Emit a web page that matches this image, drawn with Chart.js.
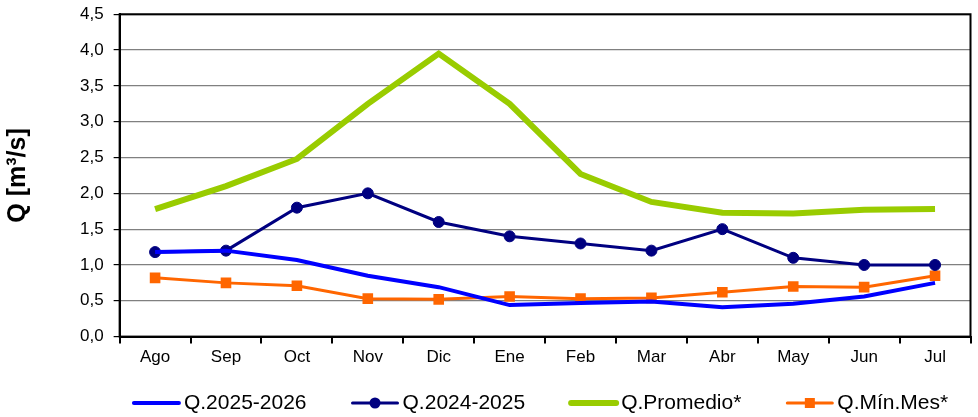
<!DOCTYPE html>
<html>
<head>
<meta charset="utf-8">
<script src="https://cdn.jsdelivr.net/npm/chart.js@4.4.1/dist/chart.umd.min.js"></script>
<style>
  html, body { margin: 0; padding: 0; background: #fff; }
  #wrap { width: 978px; height: 417px; }
</style>
</head>
<body>
<div id="wrap"><canvas id="chart"></canvas></div>
<script>
const months = ['Ago', 'Sep', 'Oct', 'Nov', 'Dic', 'Ene', 'Feb', 'Mar', 'Abr', 'May', 'Jun', 'Jul'];
const q2025 = [1.18, 1.20, 1.07, 0.85, 0.69, 0.44, 0.47, 0.49, 0.41, 0.46, 0.56, 0.75];
const q2024 = [1.18, 1.20, 1.80, 2.00, 1.60, 1.40, 1.30, 1.20, 1.50, 1.10, 1.00, 1.00];
const qPromedio = [1.78, 2.10, 2.48, 3.25, 3.95, 3.25, 2.27, 1.88, 1.73, 1.72, 1.77, 1.78];
const qMinMes = [0.82, 0.75, 0.71, 0.53, 0.52, 0.56, 0.53, 0.54, 0.62, 0.70, 0.69, 0.85];

const plotBorder = {
  id: 'plotBorder',
  afterDraw(chart) {
    const a = chart.chartArea, ctx = chart.ctx;
    ctx.save();
    ctx.strokeStyle = '#000'; ctx.lineWidth = 2;
    ctx.strokeRect(a.left, a.top, a.right - a.left, a.bottom - a.top);
    ctx.restore();
  }
};

// legend drawn by hand: line + marker, then the label, items spaced like the original
const lineLegend = {
  id: 'lineLegend',
  afterDraw(chart) {
    const ctx = chart.ctx, a = chart.chartArea;
    const iconW = 49, gap = 3, spacing = 44, y = 403;
    ctx.save();
    ctx.font = '21px "Liberation Sans", Arial';
    ctx.textBaseline = 'middle';
    const items = chart.data.datasets.map(ds => ({ ds, w: ctx.measureText(ds.label).width }));
    const total = items.reduce((s, it) => s + iconW + gap + it.w, 0) + spacing * (items.length - 1);
    let x = (a.left + a.right) / 2 - total / 2 - 5;
    items.forEach(({ ds, w }) => {
      ctx.strokeStyle = ds.borderColor;
      ctx.lineWidth = ds.legendLine;
      ctx.lineCap = 'round';
      ctx.beginPath(); ctx.moveTo(x + 2, y); ctx.lineTo(x + iconW - 2, y); ctx.stroke();
      ctx.fillStyle = ds.borderColor;
      const cx = x + iconW / 2;
      if (ds.pointStyle == 'circle' && ds.pointRadius > 0) {
        ctx.beginPath(); ctx.arc(cx, y, 5.5, 0, Math.PI * 2); ctx.fill();
      }
      if (ds.pointStyle == 'rect') ctx.fillRect(cx - 5, y - 5, 10, 10);
      ctx.fillStyle = '#000';
      ctx.fillText(ds.label, x + iconW + gap, y);
      x += iconW + gap + w + spacing;
    });
    ctx.restore();
  }
};

new Chart(document.getElementById('chart'), {
  type: 'line',
  data: {
    labels: months,
    datasets: [
      { label: 'Q.2025-2026', data: q2025, borderColor: '#0000ff', backgroundColor: '#0000ff',
        borderWidth: 4, pointRadius: 0, legendLine: 4 },
      { label: 'Q.2024-2025', data: q2024, borderColor: '#000080', backgroundColor: '#000080',
        borderWidth: 3, pointStyle: 'circle', pointRadius: 5.5, pointHoverRadius: 5.5, pointBorderWidth: 1,
        legendLine: 3 },
      { label: 'Q.Promedio*', data: qPromedio, borderColor: '#99cc00', backgroundColor: '#99cc00',
        borderWidth: 6, pointRadius: 0, legendLine: 6 },
      { label: 'Q.Mín.Mes*', data: qMinMes, borderColor: '#ff6600', backgroundColor: '#ff6600',
        borderWidth: 3, pointStyle: 'rect', pointRadius: 7.5, pointHoverRadius: 7.5, pointBorderWidth: 0,
        legendLine: 3 }
    ]
  },
  options: {
    responsive: true,
    maintainAspectRatio: false,
    animation: false,
    layout: { padding: { left: 6, right: 0, top: 11, bottom: 45 } },
    plugins: {
      tooltip: { enabled: false },
      legend: { display: false }
    },
    scales: {
      x: {
        offset: true,
        border: { display: true, color: '#000', width: 2 },
        grid: { offset: true, drawOnChartArea: false, drawTicks: true, tickLength: 7, color: '#000', lineWidth: 2 },
        ticks: { color: '#000', padding: 4, font: { family: 'Liberation Sans, Arial', size: 17 } }
      },
      y: {
        min: 0, max: 4.5,
        border: { display: true, color: '#000', width: 2 },
        grid: { color: '#808080', lineWidth: 1.2, tickLength: 6, tickColor: '#000', drawTicks: true },
        ticks: {
          stepSize: 0.5, color: '#000', padding: 10,
          font: { family: 'Liberation Sans, Arial', size: 17, lineHeight: 0.5 },
          callback: v => v.toFixed(1).replace('.', ',')
        },
        title: {
          display: true, text: 'Q [m³/s]', color: '#000', padding: { top: 0, bottom: 39 },
          font: { family: 'Liberation Sans, Arial', size: 25, weight: 'bold', lineHeight: 1 }
        }
      }
    }
  },
  plugins: [plotBorder, lineLegend]
});
</script>
</body>
</html>
